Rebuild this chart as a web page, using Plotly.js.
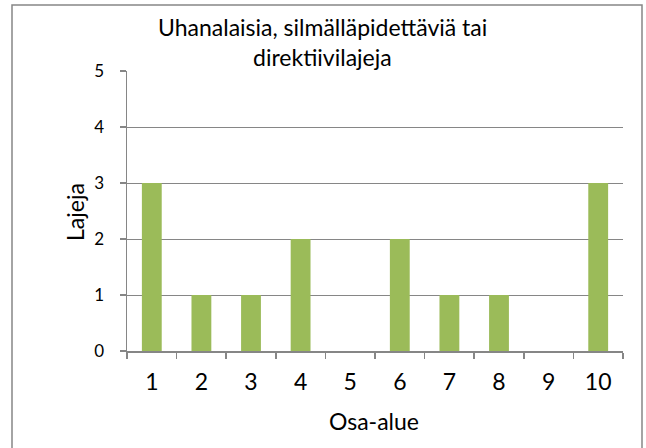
<!DOCTYPE html>
<html>
<head>
<meta charset="utf-8">
<script src="https://cdn.plot.ly/plotly-3.0.1.min.js"></script>
<style>
html,body{margin:0;padding:0;background:#fff;}
#chart{width:646px;height:448px;}
</style>
</head>
<body>
<div id="chart"></div>
<script>
const categories = ['1','2','3','4','5','6','7','8','9','10'];
const lajeja = [3,1,1,2,0,2,1,1,0,3];
const titleLines = ['Uhanalaisia, silmälläpidettäviä tai', 'direktiivilajeja'];
const xTitle = 'Osa-alue';
const yTitle = 'Lajeja';

const W = 646, H = 448;
const m = {l:127, r:23, t:71, b:97};
const pw = W - m.l - m.r, ph = H - m.t - m.b;
const px = v => (v - m.l) / pw;
const py = v => 1 - (v - m.t) / ph;

const font = 'Lato, "Open Sans", sans-serif';

const data = [{
  type: 'bar',
  x: categories,
  y: lajeja,
  marker: {color: '#9BBB59', line: {width: 0}},
  hoverinfo: 'x+y'
}];

function ann(text, x, y, size, angle) {
  return {
    text: text, xref: 'paper', yref: 'paper',
    x: px(x), y: py(y), xanchor: 'center', yanchor: 'middle',
    showarrow: false, textangle: angle || 0,
    font: {family: font, size: size, color: '#000'}
  };
}

const layout = {
  width: W, height: H,
  margin: m,
  paper_bgcolor: '#fff',
  plot_bgcolor: '#fff',
  bargap: 0.6,
  showlegend: false,
  font: {family: font, color: '#000'},
  xaxis: {
    type: 'category',
    tickfont: {family: font, size: 23},
    ticklabelstandoff: 10,
    showgrid: false,
    showline: true, linecolor: '#868686', linewidth: 1.5,
    ticks: 'outside', ticklen: 6, tickcolor: '#868686', tickwidth: 1.5,
    tickson: 'boundaries',
    zeroline: false,
    fixedrange: true
  },
  yaxis: {
    range: [0, 5],
    dtick: 1,
    tickfont: {family: font, size: 17},
    ticklabelstandoff: 12,
    showgrid: true, gridcolor: '#868686', gridwidth: 1,
    showline: true, linecolor: '#868686', linewidth: 1.5,
    ticks: 'outside', ticklen: 6, tickcolor: '#868686', tickwidth: 1.5,
    zeroline: false,
    fixedrange: true
  },
  annotations: [
    ann(titleLines[0], 322, 27, 23),
    ann(titleLines[1], 322, 57, 23),
    ann(xTitle, 374, 421, 23),
    ann(yTitle, 75, 212, 23, -90)
  ],
  shapes: [{
    type: 'rect', xref: 'paper', yref: 'paper',
    x0: px(12), x1: px(642), y0: py(460), y1: py(5),
    line: {color: '#868686', width: 1.5},
    fillcolor: 'rgba(0,0,0,0)',
    layer: 'above'
  }]
};

Plotly.newPlot('chart', data, layout, {displayModeBar: false, staticPlot: true});
</script>
</body>
</html>
